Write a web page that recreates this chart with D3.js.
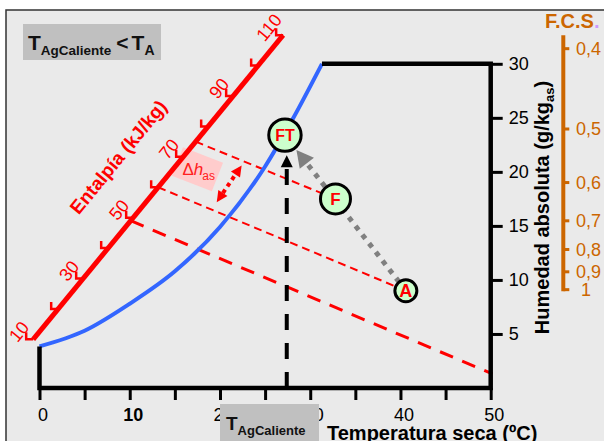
<!DOCTYPE html>
<html><head><meta charset="utf-8">
<script src="https://cdn.jsdelivr.net/npm/d3@7"></script>
<style>
body{margin:0;background:#fff}
svg{display:block;font-family:"Liberation Sans",Arial,sans-serif}
</style>
</head><body>
<svg id="chart" width="604" height="441"></svg>
<script>
// Dry-bulb temperature axis (ºC)
const tempTicks = [0, 5, 10, 15, 20, 25, 30, 35, 40, 45, 50];
const tempLabels = [0, 10, 20, 30, 40, 50];
// Absolute humidity axis (g/kg dry air)
const humTicks = [5, 10, 15, 20, 25, 30];
// Saturation curve
const satTemp = [0, 5, 10, 15, 20, 25, 28, 31.3];
const satHum = [3.85, 5.3, 7.8, 10.8, 14.9, 20.5, 24.8, 30];
// Enthalpy scale (kJ/kg) and where its ends sit on the chart
const enthalpyTicks = [10, 20, 30, 40, 50, 60, 70, 80, 90, 100, 110];
const enthalpyLabels = [10, 30, 50, 70, 90, 110];
const enthalpyEndTemp = [-0.7, 27.0];
const enthalpyEndHum = [4.5, 32.65];
// Constant-enthalpy lines: value on the scale and end point
const hLineValues = [75, 60, 49];
const hLineEndTemp = [32.8, 40.6, 50.2];
const hLineEndHum = [17.5, 9.0, 1.3];
// Air states
const stateNames = ["A", "F", "FT"];
const stateTemp = [40.6, 32.8, 27.2];
const stateHum = [9.0, 17.5, 23.4];
const hotWaterTemp = 27.4;
// Δh_as marker: arrow tips and label centre (T, W)
const dhArrowTemp = [19.64, 22.4];
const dhArrowHum = [17.2, 20.6];
const dhLabelTemp = 17.5, dhLabelHum = 20.24;
// Sensible heat factor scale
const fcsValues = [0.4, 0.5, 0.6, 0.7, 0.8, 0.9, 1];
const fcsLabels = ["0,4", "0,5", "0,6", "0,7", "0,8", "0,9", "1"];

const RED = "#ff0000", BLUE = "#3366ff", ORANGE = "#cc6600";

const svg = d3.select("#chart");
const x = d3.scaleLinear().domain([0, 50]).range([39.5, 490.7]);
const y = d3.scaleLinear().domain([0, 30]).range([388, 63.8]);
const P = (t, w) => [x(t), y(w)];

// panel
svg.append("rect").attr("x", 6).attr("y", 10).attr("width", 598).attr("height", 431).attr("fill", "#eaeaea");
svg.append("path").attr("d", "M6,441V10H604").attr("fill", "none").attr("stroke", "#333").attr("stroke-width", 1.5);

// enthalpy scale geometry
const hT = d3.scaleLinear().domain([10, 110]).range(enthalpyEndTemp);
const hW = d3.scaleLinear().domain([10, 110]).range(enthalpyEndHum);
const hp = h => P(hT(h), hW(h));
const e0 = hp(10), e1 = hp(110);
const eLen = Math.hypot(e1[0] - e0[0], e1[1] - e0[1]);
const ux = (e1[0] - e0[0]) / eLen, uy = (e1[1] - e0[1]) / eLen;
const nx = uy, ny = -ux; // normal pointing up-left
const eAng = Math.atan2(uy, ux) * 180 / Math.PI;

// Δh_as label box
const dhc = P(dhLabelTemp, dhLabelHum);
const dhG = svg.append("g").attr("transform", `translate(${dhc[0]},${dhc[1]})`);
dhG.append("rect").attr("x", -21.5).attr("y", -15.3).attr("width", 43).attr("height", 30.6)
  .attr("fill", "#ffcccc").attr("transform", "rotate(21.4)");
const dht = dhG.append("text").attr("x", -15).attr("y", 6).attr("fill", "#ff2020").attr("font-size", 17);
dht.append("tspan").text("Δ");
dht.append("tspan").attr("font-style", "italic").text("h");
dht.append("tspan").attr("font-size", 12).attr("dy", 5).attr("dx", -1).text("as");

// constant-enthalpy dashed lines
hLineValues.forEach((h, i) => {
  const s = hp(h), e = P(hLineEndTemp[i], hLineEndHum[i]);
  svg.append("line").attr("x1", s[0]).attr("y1", s[1]).attr("x2", e[0]).attr("y2", e[1])
    .attr("stroke", RED).attr("stroke-width", i < 2 ? 2 : 3)
    .attr("stroke-dasharray", i < 2 ? "8,5" : "14,10");
});

// enthalpy scale line, ticks and labels
svg.append("line").attr("x1", e0[0]).attr("y1", e0[1]).attr("x2", e1[0]).attr("y2", e1[1])
  .attr("stroke", RED).attr("stroke-width", 5);
svg.append("g").selectAll("path").data(enthalpyTicks).join("path")
  .attr("d", h => { const p = hp(h); return `M${p[0]},${p[1]}h-7v-7`; })
  .attr("fill", "none").attr("stroke", RED).attr("stroke-width", 2.5);
svg.append("g").selectAll("text").data(enthalpyLabels).join("text")
  .attr("transform", h => {
    const p = hp(h);
    return `translate(${p[0] + nx * 16 - ux * 3},${p[1] + ny * 16 - uy * 3}) rotate(${eAng})`;
  })
  .attr("text-anchor", "middle").attr("dy", "0.35em")
  .attr("font-size", 18).attr("fill", RED).text(d => d);
{
  const p = hp(59.5);
  svg.append("text")
    .attr("transform", `translate(${p[0] + nx * 50},${p[1] + ny * 50}) rotate(${eAng})`)
    .attr("text-anchor", "middle").attr("dy", "0.35em")
    .attr("font-size", 19).attr("font-weight", "bold").attr("fill", RED)
    .text("Entalpía (kJ/kg)");
}

// saturation curve
svg.append("path")
  .attr("d", d3.line().x(i => x(satTemp[i])).y(i => y(satHum[i])).curve(d3.curveMonotoneX)(d3.range(satTemp.length)))
  .attr("fill", "none").attr("stroke", BLUE).attr("stroke-width", 4);

// chart boundary
const satEnd = satTemp.length - 1;
svg.append("path")
  .attr("d", `M${x(satTemp[satEnd])},${y(30)}H${x(50)}V${y(0)}H${x(0)}V${y(satHum[0])}`)
  .attr("fill", "none").attr("stroke", "#000").attr("stroke-width", 4.5);

// axes
const xAxis = svg.append("g").attr("transform", `translate(0,${y(0)})`)
  .call(d3.axisBottom(x).tickValues(tempTicks).tickSize(12).tickPadding(8)
    .tickFormat(d => tempLabels.includes(d) ? d : ""));
xAxis.select(".domain").remove();
xAxis.attr("font-family", null);
xAxis.selectAll(".tick line").attr("stroke", "#000").attr("stroke-width", 3);
xAxis.selectAll(".tick text").attr("font-size", 18).attr("fill", "#000").attr("dx", 3)
  .attr("font-weight", d => d === 10 ? "bold" : "normal");

const yAxis = svg.append("g").attr("transform", `translate(${x(50)},0)`)
  .call(d3.axisRight(y).tickValues(humTicks).tickSize(12).tickPadding(6));
yAxis.select(".domain").remove();
yAxis.attr("font-family", null);
yAxis.selectAll(".tick line").attr("stroke", "#000").attr("stroke-width", 3);
yAxis.selectAll(".tick text").attr("font-size", 18).attr("fill", "#000");

svg.append("text").attr("x", 327).attr("y", 440).attr("font-size", 20).attr("font-weight", "bold")
  .text("Temperatura seca (ºC)");
const yt = svg.append("text").attr("transform", "translate(549,207.5) rotate(-90)")
  .attr("text-anchor", "middle").attr("font-size", 20).attr("font-weight", "bold");
yt.append("tspan").text("Humedad absoluta (g/kg");
yt.append("tspan").attr("font-size", 13).attr("dy", 5).text("as");
yt.append("tspan").attr("dy", -5).text(")");

// hot-water temperature marker
const states = stateNames.map((n, i) => ({ name: n, p: P(stateTemp[i], stateHum[i]) }));
const radius = { A: 11, F: 15, FT: 16.2 };
const ft = states[2];
{
  const xv = x(hotWaterTemp);
  const tip = ft.p[1] + radius.FT + 4;
  svg.append("line").attr("x1", xv).attr("y1", y(0)).attr("x2", xv).attr("y2", tip + 10)
    .attr("stroke", "#000").attr("stroke-width", 4).attr("stroke-dasharray", "16,13");
  svg.append("path").attr("d", `M${xv},${tip}L${xv + 6},${tip + 12}L${xv - 6},${tip + 12}Z`).attr("fill", "#000");
}

// process arrow A -> F -> FT
{
  const a = states[0].p, f = ft.p;
  const L = Math.hypot(f[0] - a[0], f[1] - a[1]);
  const dx = (f[0] - a[0]) / L, dy = (f[1] - a[1]) / L;
  const tip = [f[0] - dx * (radius.FT + 2.5), f[1] - dy * (radius.FT + 2.5)];
  const base = [tip[0] - dx * 17, tip[1] - dy * 17];
  svg.append("line").attr("x1", a[0]).attr("y1", a[1]).attr("x2", base[0]).attr("y2", base[1])
    .attr("stroke", "#808080").attr("stroke-width", 5).attr("stroke-dasharray", "5,6");
  svg.append("path")
    .attr("d", `M${tip[0]},${tip[1]}L${base[0] - dy * 9},${base[1] + dx * 9}L${base[0] + dy * 9},${base[1] - dx * 9}Z`)
    .attr("fill", "#808080");
}

// Δh_as double arrow
{
  const b = P(dhArrowTemp[0], dhArrowHum[0]), t = P(dhArrowTemp[1], dhArrowHum[1]);
  const L = Math.hypot(t[0] - b[0], t[1] - b[1]);
  const dx = (t[0] - b[0]) / L, dy = (t[1] - b[1]) / L;
  const hl = 11, hw = 5.5;
  const tb = [t[0] - dx * hl, t[1] - dy * hl], bb = [b[0] + dx * hl, b[1] + dy * hl];
  svg.append("line").attr("x1", bb[0]).attr("y1", bb[1]).attr("x2", tb[0]).attr("y2", tb[1])
    .attr("stroke", RED).attr("stroke-width", 4).attr("stroke-dasharray", "4,4");
  const head = (tp, bs) => `M${tp[0]},${tp[1]}L${bs[0] - dy * hw},${bs[1] + dx * hw}L${bs[0] + dy * hw},${bs[1] - dx * hw}Z`;
  svg.append("path").attr("d", head(t, tb)).attr("fill", RED);
  svg.append("path").attr("d", head(b, bb)).attr("fill", RED);
}

// state circles
const sg = svg.append("g").selectAll("g").data(states).join("g")
  .attr("transform", d => `translate(${d.p[0]},${d.p[1]})`);
sg.append("circle").attr("r", d => radius[d.name]).attr("fill", "#ccffcc").attr("stroke", "#000").attr("stroke-width", 3);
sg.append("text").attr("text-anchor", "middle").attr("dy", "0.36em").attr("fill", RED)
  .attr("font-weight", "bold").attr("font-size", d => d.name === "A" ? 18 : (d.name === "F" ? 17 : 16))
  .text(d => d.name);

// condition box
svg.append("rect").attr("x", 23).attr("y", 24).attr("width", 138).attr("height", 36).attr("fill", "#c0c0c0");
{
  const t = svg.append("text").attr("x", 28).attr("y", 50).attr("font-weight", "bold").attr("font-size", 21).attr("fill", "#111");
  t.append("tspan").text("T");
  t.append("tspan").attr("font-size", 13.5).attr("dy", 5).text("AgCaliente");
  t.append("tspan").attr("dy", -5).attr("dx", 5).text("<");
  t.append("tspan").attr("dx", 3).text("T");
  t.append("tspan").attr("font-size", 14).attr("dy", 5).text("A");
}
svg.append("rect").attr("x", 220).attr("y", 404).attr("width", 99).attr("height", 40).attr("fill", "#c0c0c0");
{
  const t = svg.append("text").attr("x", 226).attr("y", 430).attr("font-weight", "bold").attr("font-size", 19).attr("fill", "#111");
  t.append("tspan").text("T");
  t.append("tspan").attr("font-size", 13).attr("dy", 5).text("AgCaliente");
}

// sensible heat factor scale
{
  const fy = d3.scaleLinear().domain([1, 2.5]).range([y(9.1), y(31.4)]);
  const xs = 563.3;
  svg.append("line").attr("x1", xs).attr("y1", y(enthalpyEndHum[1])).attr("x2", xs).attr("y2", fy(1) + 1.5)
    .attr("stroke", ORANGE).attr("stroke-width", 4);
  svg.append("g").selectAll("line").data(fcsValues).join("line")
    .attr("x1", xs).attr("x2", xs + 6).attr("y1", d => fy(1 / d)).attr("y2", d => fy(1 / d))
    .attr("stroke", ORANGE).attr("stroke-width", 3);
  svg.append("g").selectAll("text").data(fcsValues).join("text")
    .attr("x", d => d === 1 ? 581 : 576).attr("y", d => fy(1 / d)).attr("dy", "0.35em")
    .attr("font-size", 18).attr("fill", ORANGE).text((d, i) => fcsLabels[i]);
  const ft2 = svg.append("text").attr("x", 545).attr("y", 28).attr("font-size", 20).attr("font-weight", "bold").attr("fill", ORANGE);
  ft2.append("tspan").text("F.C.S");
  ft2.append("tspan").attr("fill", "#cc99ff").text(".");
}
</script>
</body></html>
